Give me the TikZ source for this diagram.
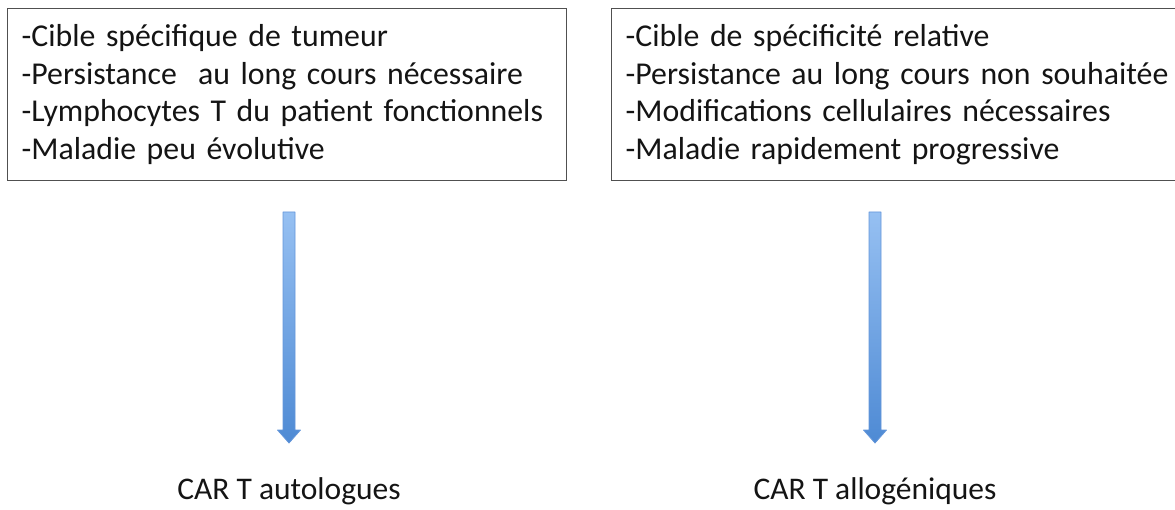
\documentclass[tikz,border=0pt]{standalone}
\usepackage{fontspec}
\setmainfont{Carlito}
\usetikzlibrary{calc}
\definecolor{arrowtop}{RGB}{150,192,242}
\definecolor{arrowbot}{RGB}{78,138,212}
\definecolor{arrowedge}{RGB}{100,150,218}
\definecolor{boxgray}{RGB}{80,80,80}
\definecolor{txt}{RGB}{20,20,20}
\begin{document}
\begin{tikzpicture}[x=1pt,y=-1pt,
  listbox/.style={draw=boxgray, line width=1.3pt, anchor=north west, align=left,
    inner xsep=14pt, inner ysep=6pt, font=\fontsize{31.8}{37.7}\selectfont, text=txt},
  outlabel/.style={font=\fontsize{31.5}{37}\selectfont, text=txt},
  bigarrow/.style={draw=arrowedge, line width=0.8pt, line join=round,
    top color=arrowtop, bottom color=arrowbot}]
\useasboundingbox (0,0) rectangle (1175,510);
\node[listbox, minimum width=559pt, minimum height=172pt, text width=531pt] (L) at (7,8)
  {-Cible spécifique de tumeur\\-Persistance\ \ au long cours nécessaire\\-Lymphocytes T du patient fonctionnels\\-Maladie peu évolutive};
\node[listbox, minimum width=580pt, minimum height=172pt, text width=552pt] (R) at (611,8)
  {-Cible de spécificité relative\\-Persistance au long cours non souhaitée\\-Modifications cellulaires nécessaires\\-Maladie rapidement progressive};
\node[outlabel] (LA) at (289,491) {CAR T autologues};
\node[outlabel] (RA) at (875,491) {CAR T allogéniques};
\coordinate (l1) at (289,212);
\coordinate (l2) at (289,443);
\coordinate (r1) at (875,212);
\coordinate (r2) at (875,443);
\foreach \a/\b in {l1/l2, r1/r2}{
  \shadedraw[bigarrow] ($(\a)+(-6,0)$) -- ($(\a)+(6,0)$) -- ($(\b)+(6,-13)$)
    -- ($(\b)+(11.5,-13)$) -- (\b) -- ($(\b)+(-11.5,-13)$) -- ($(\b)+(-6,-13)$) -- cycle;
}
\end{tikzpicture}
\end{document}
